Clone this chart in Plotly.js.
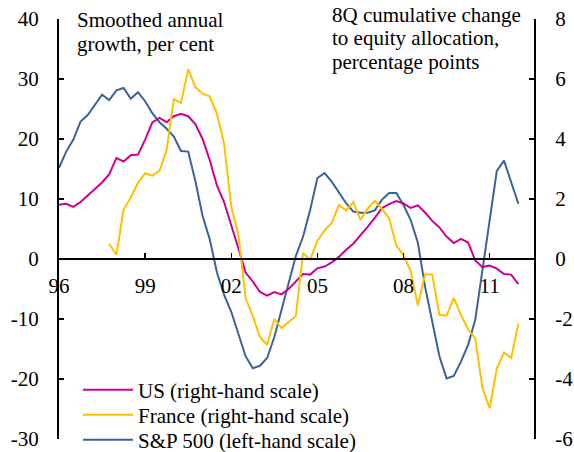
<!DOCTYPE html>
<html>
<head>
<meta charset="utf-8">
<script src="https://cdn.plot.ly/plotly-3.0.1.min.js"></script>
<style>
html,body{margin:0;padding:0;background:#fff;}
#chart{width:574px;height:452px;}
</style>
</head>
<body>
<div id="chart"></div>
<script>
// Quarterly observations starting 1996 Q1
const startYear = 1996;
const nQuarters = 65;

// S&P 500, smoothed annual growth, per cent (left-hand scale)
const sp500 = [15.2, 17.9, 19.9, 22.9, 24.0, 25.7, 27.4, 26.5, 28.1, 28.5,
  26.7, 27.8, 26.3, 24.3, 22.8, 21.7, 20.4, 18.0, 17.9, 13.0,
  7.2, 3.3, -2.2, -6.0, -8.8, -12.5, -16.2, -18.2, -17.8, -16.5,
  -13.0, -8.5, -4.0, 0.5, 3.7, 8.2, 13.5, 14.3, 12.9, 11.1,
  9.3, 7.9, 7.7, 7.7, 8.1, 9.9, 11.0, 11.0, 9.0, 6.5,
  2.7, -4.6, -10.4, -16.2, -19.9, -19.5, -17.1, -14.3, -10.1, -1.8,
  6.5, 14.7, 16.4, 12.9, 9.2];

// US, 8Q cumulative change to equity allocation, ppt (right-hand scale)
const us = [1.81, 1.84, 1.74, 1.90, 2.12, 2.35, 2.55, 2.83, 3.36, 3.25,
  3.46, 3.48, 3.98, 4.55, 4.70, 4.56, 4.76, 4.84, 4.76, 4.50,
  4.00, 3.30, 2.45, 1.90, 1.15, 0.35, -0.45, -0.75, -1.10, -1.22,
  -1.10, -1.18, -1.00, -0.75, -0.50, -0.52, -0.31, -0.25, -0.11, 0.07,
  0.31, 0.51, 0.78, 1.07, 1.37, 1.70, 1.83, 1.93, 1.85, 1.70,
  1.79, 1.55, 1.27, 1.05, 0.75, 0.53, 0.67, 0.55, -0.05, -0.27,
  -0.22, -0.32, -0.50, -0.52, -0.84];

// France, 8Q cumulative change to equity allocation, ppt (right-hand scale)
const france = [null, null, null, null, null, null, null, 0.50, 0.14, 1.64,
  2.05, 2.53, 2.86, 2.78, 2.93, 3.64, 5.33, 5.20, 6.33, 5.73,
  5.51, 5.42, 4.85, 3.85, 1.75, 0.80, -1.30, -1.90, -2.60, -2.86,
  -2.00, -2.30, -2.10, -1.90, 0.20, -0.02, 0.60, 0.95, 1.20, 1.80,
  1.62, 1.90, 1.30, 1.68, 1.94, 1.67, 1.35, 0.45, 0.13, -0.40,
  -1.55, -0.52, -0.52, -1.86, -1.89, -1.30, -1.86, -2.35, -2.65, -4.30,
  -4.97, -3.65, -3.12, -3.30, -2.16];

const xTickVals = [1996, 1999, 2002, 2005, 2008, 2011];
const xTickText = ['96', '99', '02', '05', '08', '11'];
const leftTickVals = [-30, -20, -10, 0, 10, 20, 30, 40];
const leftTickText = ['-30', '-20', '-10', '0', '10', '20', '30', '40'];
const rightTickVals = [-6, -4, -2, 0, 2, 4, 6, 8];
const rightTickText = ['-6', '-4', '-2', '0', '2', '4', '6', '8'];

const quarters = [];
for (let i = 0; i < nQuarters; i++) quarters.push(startYear + i / 4);

const FONT = "'Liberation Serif', 'Times New Roman', 'DejaVu Serif', serif";
const colUS = '#CC0099';
const colFR = '#FFC000';
const colSP = '#3A6497';

const traces = [
  {x: quarters, y: us, name: 'US (right-hand scale)', yaxis: 'y2', type: 'scatter', mode: 'lines',
   line: {color: colUS, width: 2}, connectgaps: false, legend: 'legend'},
  {x: quarters, y: france, name: 'France (right-hand scale)', yaxis: 'y2', type: 'scatter', mode: 'lines',
   line: {color: colFR, width: 2}, connectgaps: false, legend: 'legend2'},
  {x: quarters, y: sp500, name: 'S&P 500 (left-hand scale)', yaxis: 'y', type: 'scatter', mode: 'lines',
   line: {color: colSP, width: 2}, legend: 'legend3'}
];

function legendAt(rowY) {
  return {xref: 'container', yref: 'container', x: 78 / 574, y: 1 - rowY / 452,
    xanchor: 'left', yanchor: 'middle', bgcolor: 'rgba(0,0,0,0)',
    font: {family: FONT, size: 21, color: '#000'}, itemwidth: 50};
}

const layout = {
  width: 574, height: 452,
  margin: {l: 59, r: 40, t: 19, b: 13, pad: 0, autoexpand: false},
  paper_bgcolor: '#fff', plot_bgcolor: 'rgba(0,0,0,0)',
  font: {family: FONT, size: 21, color: '#000'},
  showlegend: true,
  legend: legendAt(390),
  legend2: legendAt(415),
  legend3: legendAt(440),
  xaxis: {
    range: [1996, 2012.545], anchor: 'free', position: 30 / 70,
    showline: true, linecolor: '#000', linewidth: 2, showgrid: false, zeroline: false,
    tickmode: 'array', tickvals: xTickVals, ticktext: xTickText,
    ticks: 'inside', ticklen: 5, tickwidth: 1.5, tickcolor: '#000',
    ticklabelstandoff: 8, tickfont: {family: FONT, size: 21, color: '#000'}
  },
  yaxis: {
    range: [-30, 40], showline: true, linecolor: '#000', linewidth: 2, showgrid: false, zeroline: false,
    tickmode: 'array', tickvals: leftTickVals, ticktext: leftTickText,
    ticks: 'inside', ticklen: 5, tickwidth: 1.5, tickcolor: '#000',
    ticklabelstandoff: 14, tickfont: {family: FONT, size: 21, color: '#000'}
  },
  yaxis2: {
    range: [-6, 8], overlaying: 'y', side: 'right', anchor: 'x',
    showline: true, linecolor: '#000', linewidth: 2, showgrid: false, zeroline: false,
    tickmode: 'array', tickvals: rightTickVals, ticktext: rightTickText,
    ticks: 'inside', ticklen: 5, tickwidth: 1.5, tickcolor: '#000',
    ticklabelstandoff: 15, tickfont: {family: FONT, size: 21, color: '#000'}
  },
  annotations: [
    {xref: 'paper', yref: 'paper', x: (75 - 59) / 475, y: (439 - 20.5) / 420, xanchor: 'left', yanchor: 'middle',
     text: 'Smoothed annual', showarrow: false, font: {family: FONT, size: 21, color: '#000'}},
    {xref: 'paper', yref: 'paper', x: (75 - 59) / 475, y: (439 - 44) / 420, xanchor: 'left', yanchor: 'middle',
     text: 'growth, per cent', showarrow: false, font: {family: FONT, size: 21, color: '#000'}},
    {xref: 'paper', yref: 'paper', x: (330 - 59) / 475, y: (439 - 15) / 420, xanchor: 'left', yanchor: 'middle',
     text: '8Q cumulative change', showarrow: false, font: {family: FONT, size: 21, color: '#000'}},
    {xref: 'paper', yref: 'paper', x: (330 - 59) / 475, y: (439 - 38.5) / 420, xanchor: 'left', yanchor: 'middle',
     text: 'to equity allocation,', showarrow: false, font: {family: FONT, size: 21, color: '#000'}},
    {xref: 'paper', yref: 'paper', x: (330 - 59) / 475, y: (439 - 62.5) / 420, xanchor: 'left', yanchor: 'middle',
     text: 'percentage points', showarrow: false, font: {family: FONT, size: 21, color: '#000'}}
  ]
};

Plotly.newPlot('chart', traces, layout, {staticPlot: true, displayModeBar: false});
</script>
</body>
</html>
